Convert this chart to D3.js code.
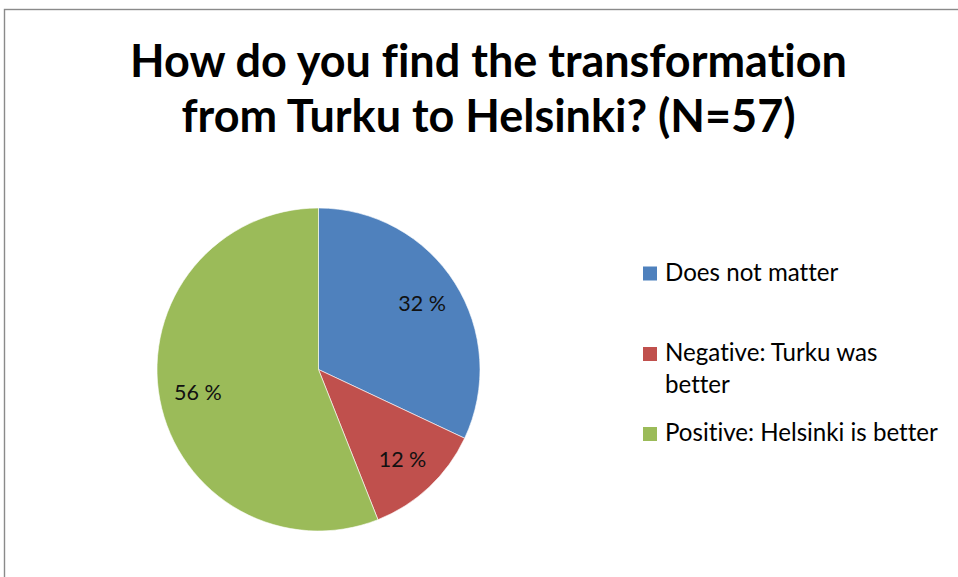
<!DOCTYPE html>
<html>
<head>
<meta charset="utf-8">
<script src="https://cdn.jsdelivr.net/npm/d3@7"></script>
<style>
  html, body { margin: 0; padding: 0; background: #fff; }
  svg { display: block; }
  text { font-family: Lato, "Open Sans", sans-serif; font-variant-ligatures: none; font-feature-settings: "liga" 0, "clig" 0; }
</style>
</head>
<body>
<svg id="chart" width="958" height="577"></svg>
<script>
// Survey answers, in percent of respondents (N=57)
const categories = ["Does not matter", "Negative: Turku was better", "Positive: Helsinki is better"];
const shares = [32, 12, 56];
const colors = ["#4F81BD", "#C0504D", "#9BBB59"];
const titleLines = ["How do you find the transformation", "from Turku to Helsinki? (N=57)"];
// Legend labels as they wrap in the legend box
const legendLines = [["Does not matter"], ["Negative: Turku was", "better"], ["Positive: Helsinki is better"]];

const svg = d3.select("#chart");
const W = 958, H = 577;

// Chart frame (runs off the right and bottom of the view)
svg.append("rect")
  .attr("x", 4.5).attr("y", 9.5)
  .attr("width", W + 20).attr("height", H + 20)
  .attr("fill", "#fff")
  .attr("stroke", "#8a8a8a")
  .attr("stroke-width", 1.4);

// Scale a group of texts so that a reference text reaches a given width
function fitGroup(sel, refNode, targetWidth, startSize) {
  sel.style("font-size", startSize + "px");
  const w = refNode.getComputedTextLength();
  const size = startSize * targetWidth / w;
  sel.style("font-size", size + "px");
  return size;
}

// Title
const title = svg.append("g").attr("class", "title");
const titleText = title.selectAll("text")
  .data(titleLines)
  .join("text")
  .attr("x", 488.5)
  .attr("y", (d, i) => 76.5 + i * 55)
  .attr("text-anchor", "middle")
  .attr("font-weight", 700)
  .attr("fill", "#000")
  .text(d => d);
fitGroup(titleText, titleText.nodes()[0], 717, 40);

// Pie
const cx = 318.5, cy = 369.5, R = 161.5;
const pie = d3.pie().sort(null).value(d => d)
  .startAngle(0).endAngle(2 * Math.PI);
const arcs = pie(shares);
const arc = d3.arc().innerRadius(0).outerRadius(R);
const labelArc = d3.arc().innerRadius(R * 0.76).outerRadius(R * 0.76);

const g = svg.append("g").attr("transform", `translate(${cx},${cy})`);
g.selectAll("path")
  .data(arcs)
  .join("path")
  .attr("d", arc)
  .attr("fill", (d, i) => colors[i])
  .attr("stroke", "#fff")
  .attr("stroke-width", 0.6);

g.selectAll("text")
  .data(arcs)
  .join("text")
  .attr("transform", d => `translate(${labelArc.centroid(d)})`)
  .attr("text-anchor", "middle")
  .attr("dy", "0.36em")
  .attr("fill", "#111")
  .style("font-size", "21.5px")
  .text(d => d.data + " %");

// Legend
const legendX = 643, textX = 665;
const legendTop = [280.5, 361, 441];
const lineGap = 31.7;
const legend = svg.append("g").attr("class", "legend");
const items = legend.selectAll("g")
  .data(categories)
  .join("g");
items.append("rect")
  .attr("x", legendX)
  .attr("y", (d, i) => legendTop[i] - 14)
  .attr("width", 14).attr("height", 14)
  .attr("fill", (d, i) => colors[i]);
const legendText = items.append("text")
  .attr("fill", "#000");
legendText.selectAll("tspan")
  .data((d, i) => legendLines[i].map(t => ({ t, i })))
  .join("tspan")
  .attr("x", textX)
  .attr("y", (d, j) => legendTop[d.i] + j * lineGap)
  .text(d => d.t);
const refTspan = legendText.nodes()[2].querySelector("tspan");
fitGroup(legendText, refTspan, 273, 20);
</script>
</body>
</html>
